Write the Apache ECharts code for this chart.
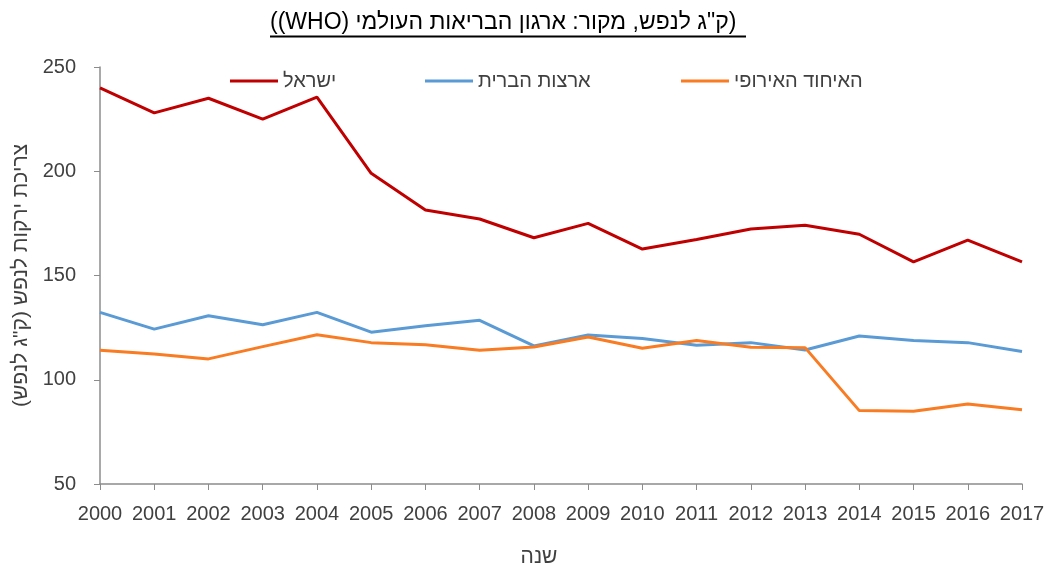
<!DOCTYPE html>
<html>
<head>
<meta charset="utf-8">
<script src="https://cdn.jsdelivr.net/npm/echarts@6/dist/echarts.min.js"></script>
<style>
  html, body { margin: 0; padding: 0; background: #fff; }
  #chart { width: 1051px; height: 565px; }
</style>
</head>
<body>
<!-- rtl so the Hebrew title is laid out right-to-left on the canvas -->
<div id="chart" dir="rtl"></div>
<script>
// years on the x axis
const years = ["2000", "2001", "2002", "2003", "2004", "2005", "2006", "2007", "2008",
  "2009", "2010", "2011", "2012", "2013", "2014", "2015", "2016", "2017"];

// vegetable consumption, kg per capita
const israel = [240, 228, 235, 225, 235.5, 199, 181.4, 177.1, 168.1, 175, 162.7, 167.3,
  172.3, 174.1, 169.8, 156.5, 167, 156.5];
const usa = [132.3, 124.3, 130.7, 126.4, 132.3, 122.8, 125.9, 128.5, 116.2, 121.5, 119.8,
  116.5, 117.8, 114.3, 121, 118.8, 117.8, 113.5];
const eu = [114.1, 112.4, 110, 115.9, 121.6, 117.8, 116.8, 114.1, 115.7, 120.5, 115.1,
  118.8, 115.6, 115.4, 85.2, 84.9, 88.4, 85.6];

const seriesNames = ["ישראל", "ארצות הברית", "האיחוד האירופי"];
const seriesColors = ["#C00000", "#5B9BD5", "#F97B22"];

const yTicks = { min: 50, max: 250, interval: 50 };

const FONT = '"Liberation Sans", sans-serif';
const TXT = "#404040";
const AXIS = "#8c8c8c";

const titleText = "(ק\"ג לנפש, מקור: ארגון הבריאות העולמי (WHO))";

const chart = echarts.init(document.getElementById("chart"));

const legendLefts = [230, 425, 681];

const option = {
  backgroundColor: "#fff",
  animation: false,
  title: {
    text: titleText,
    left: 270,
    top: 11,
    padding: 0,
    textStyle: { fontFamily: FONT, fontSize: 23, fontWeight: "normal", color: "#000" },
  },
  graphic: [
    {
      type: "line",
      shape: { x1: 270, y1: 36.5, x2: 746, y2: 36.5 },
      style: { stroke: "#000", lineWidth: 2 },
    },
  ],
  legend: seriesNames.map((n, i) => ({
    data: [n],
    left: legendLefts[i],
    top: 71,
    padding: 0,
    icon: "rect",
    itemWidth: 48,
    itemHeight: 3,
    itemGap: 4,
    textStyle: { fontFamily: FONT, fontSize: 20, color: TXT },
  })),
  grid: { left: 100, right: 29, top: 67, bottom: 81, containLabel: false, outerBoundsMode: "none" },
  xAxis: {
    type: "category",
    data: years,
    boundaryGap: false,
    name: "שנה",
    nameLocation: "middle",
    nameGap: 63,
    nameTextStyle: { fontFamily: FONT, fontSize: 21, color: TXT, padding: [0, 44, 0, 0] },
    axisLine: { lineStyle: { color: AXIS, width: 1.5 } },
    axisTick: { show: true, alignWithLabel: true, length: 6, lineStyle: { color: AXIS } },
    axisLabel: { fontFamily: FONT, fontSize: 20, color: TXT, margin: 20, interval: 0 },
    splitLine: { show: false },
  },
  yAxis: {
    type: "value",
    min: yTicks.min,
    max: yTicks.max,
    interval: yTicks.interval,
    name: "צריכת ירקות לנפש (ק\"ג לנפש)",
    nameLocation: "middle",
    nameRotate: 90,
    nameGap: 68,
    nameTextStyle: { fontFamily: FONT, fontSize: 21, color: TXT },
    axisLine: { show: true, lineStyle: { color: AXIS, width: 1.5 } },
    axisTick: { show: true, length: 6, lineStyle: { color: AXIS } },
    axisLabel: { fontFamily: FONT, fontSize: 20, color: TXT, margin: 24 },
    splitLine: { show: false },
  },
  series: [
    { name: seriesNames[0], data: israel },
    { name: seriesNames[1], data: usa },
    { name: seriesNames[2], data: eu },
  ].map((s, i) => ({
    name: s.name,
    type: "line",
    data: s.data,
    symbol: "none",
    color: seriesColors[i],
    lineStyle: { width: 3, color: seriesColors[i] },
  })),
};

chart.setOption(option);
</script>
</body>
</html>
